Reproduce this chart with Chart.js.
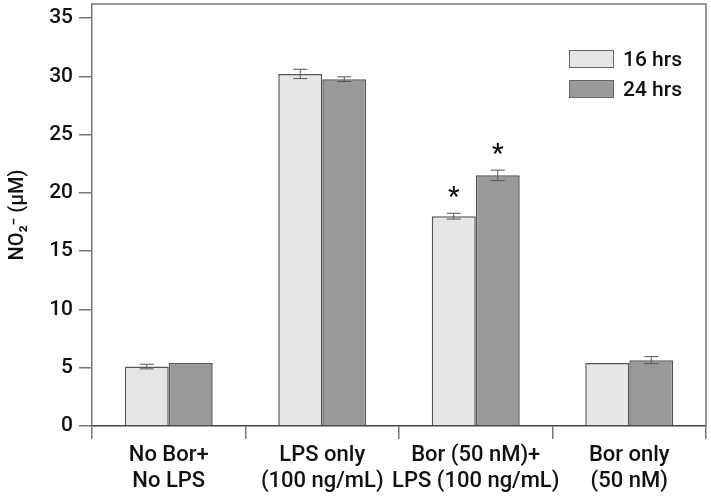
<!DOCTYPE html>
<html>
<head>
<meta charset="utf-8">
<script src="https://cdn.jsdelivr.net/npm/chart.js@4.4.1/dist/chart.umd.min.js"></script>
<style>
  html, body { margin: 0; padding: 0; background: #fff; }
  #wrap { position: relative; width: 711px; height: 499px; }
  #legend { position: absolute; left: 569px; top: 44px; font-family: Roboto, sans-serif; font-size: 21px; font-weight: 500; color: #111; }
  #legend .row { display: flex; align-items: center; height: 30px; }
  #legend .box { width: 45px; height: 18px; box-sizing: border-box; border: 1px solid #666; margin-right: 9px; }
</style>
</head>
<body>
<div id="wrap">
  <canvas id="chart" width="711" height="499"></canvas>
  <div id="legend"></div>
</div>
<script>
// donnees
const categories = [['No Bor+', 'No LPS'], ['LPS only', '(100 ng/mL)'], ['Bor (50 nM)+', 'LPS (100 ng/mL)'], ['Bor only', '(50 nM)']];
const seriesNames = ['16 hrs', '24 hrs'];
const values16 = [5.1, 30.2, 18.0, 5.4];
const values24 = [5.4, 29.75, 21.5, 5.65];
const errors16 = [0.2, 0.4, 0.25, 0];
const errors24 = [0, 0.2, 0.45, 0.3];
const marks16 = ['', '', '*', ''];
const marks24 = ['', '', '*', ''];
const yTicks = [0, 5, 10, 15, 20, 25, 30, 35];

const FONT = 'Roboto, sans-serif';
const colors = ['#e6e6e6', '#999999'];
const errors = [errors16, errors24];
const marks = [marks16, marks24];

// barres d'erreur + asterisques
const errorBars = {
  id: 'errorBars',
  afterDatasetsDraw(chart) {
    const ctx = chart.ctx;
    const y = chart.scales.y;
    ctx.save();
    ctx.strokeStyle = '#555';
    ctx.lineWidth = 1;
    chart.data.datasets.forEach((ds, i) => {
      const meta = chart.getDatasetMeta(i);
      meta.data.forEach((bar, j) => {
        const v = ds.data[j];
        const e = errors[i][j];
        const x = bar.x;
        if (e > 0) {
          const yTop = y.getPixelForValue(v + e);
          const yBot = y.getPixelForValue(v - e);
          ctx.beginPath();
          ctx.moveTo(x, yTop); ctx.lineTo(x, yBot);
          ctx.moveTo(x - 7, yTop); ctx.lineTo(x + 7, yTop);
          ctx.moveTo(x - 7, yBot); ctx.lineTo(x + 7, yBot);
          ctx.stroke();
        }
        if (marks[i][j]) {
          ctx.fillStyle = '#111';
          ctx.font = '500 26px ' + FONT;
          ctx.textAlign = 'center';
          ctx.textBaseline = 'middle';
          ctx.fillText(marks[i][j], x, y.getPixelForValue(v + e) - 15);
        }
      });
    });
    ctx.restore();
  }
};

// cadre haut et droite
const frame = {
  id: 'frame',
  afterDraw(chart) {
    const a = chart.chartArea;
    const ctx = chart.ctx;
    ctx.save();
    ctx.strokeStyle = '#777';
    ctx.lineWidth = 1.5;
    ctx.beginPath();
    ctx.moveTo(a.left, a.top);
    ctx.lineTo(a.right, a.top);
    ctx.lineTo(a.right, a.bottom);
    ctx.stroke();
    ctx.restore();
  }
};

const chart = new Chart(document.getElementById('chart'), {
  type: 'bar',
  data: {
    labels: categories,
    datasets: [
      { label: seriesNames[0], data: values16, backgroundColor: colors[0], borderColor: '#555', borderWidth: 1.5 },
      { label: seriesNames[1], data: values24, backgroundColor: colors[1], borderColor: '#555', borderWidth: 1.5 }
    ]
  },
  options: {
    responsive: false,
    animation: false,
    layout: { padding: { top: 4, right: 5, left: 0, bottom: 0 } },
    datasets: { bar: { categoryPercentage: 0.573, barPercentage: 1 } },
    plugins: { legend: { display: false }, tooltip: { enabled: false } },
    scales: {
      x: {
        grid: { offset: true, drawOnChartArea: false, tickLength: 13, color: '#777', lineWidth: 1.5 },
        border: { color: '#444', width: 1.5 },
        ticks: { color: '#111', padding: 4, maxRotation: 0, minRotation: 0, autoSkip: false, font: { family: FONT, size: 22, weight: 500, lineHeight: 1.18 } },
        afterFit(scale) { scale.height = 73; scale.paddingLeft = 0; scale.paddingRight = 0; }
      },
      y: {
        min: 0,
        max: 36.2,
        grid: { drawOnChartArea: false, tickLength: 13, color: '#777', lineWidth: 1.5 },
        border: { color: '#777', width: 1.5 },
        afterBuildTicks(scale) { scale.ticks = yTicks.map(v => ({ value: v })); },
        ticks: { color: '#111', padding: 6, font: { family: FONT, size: 21, weight: 500 } },
        title: { display: true, text: 'NO₂⁻ (μM)', color: '#111', padding: { top: 6, bottom: 0 }, font: { family: FONT, size: 20, weight: 500 } },
        afterFit(scale) { scale.width = 92; scale.paddingTop = 0; scale.paddingBottom = 0; }
      }
    }
  },
  plugins: [errorBars, frame]
});

// legende HTML
document.getElementById('legend').innerHTML = chart.data.datasets.map(ds =>
  '<div class="row"><span class="box" style="background:' + ds.backgroundColor + '"></span>' + ds.label + '</div>'
).join('');
</script>
</body>
</html>
